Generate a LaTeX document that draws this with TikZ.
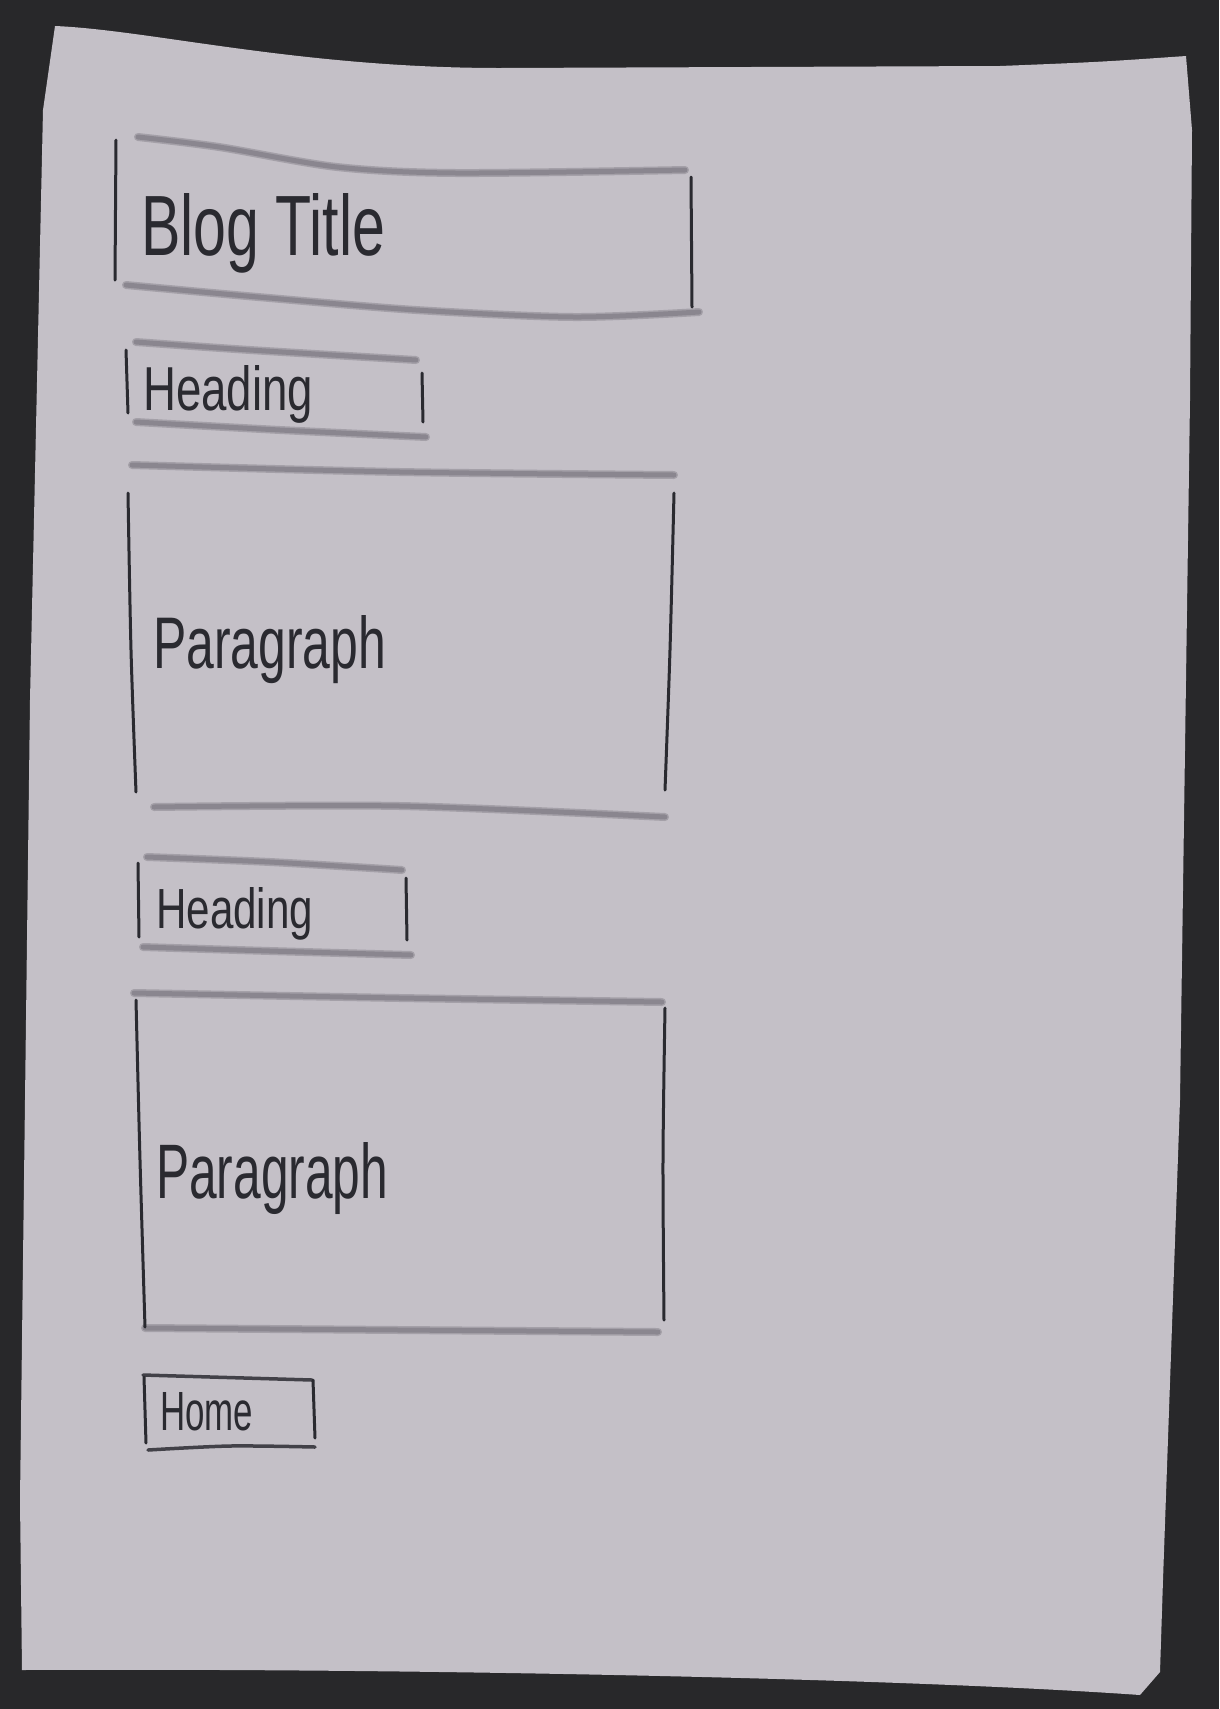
\documentclass[tikz,border=0pt]{standalone}
\usepackage{fontspec}
\setmainfont{Liberation Sans}
\usepackage{graphicx}
\definecolor{bg}{RGB}{40,40,42}
\definecolor{paper}{RGB}{196,192,199}
\definecolor{pencil}{RGB}{138,134,143}
\definecolor{ink}{RGB}{42,42,48}
\begin{document}
\begin{tikzpicture}[x=1pt,y=-1pt,
  hline/.style={pencil, line width=5pt, line cap=round,
    preaction={draw, pencil!55!paper, line width=8pt, line cap=round}},
  vline/.style={ink, line width=3pt, line cap=round},
  hbox/.style={ink!75!pencil, line width=3.5pt, line cap=round},
  label/.style={anchor=base west, inner sep=0pt, text=ink}]
\fill[bg] (0,0) rectangle (1219,1709);
\useasboundingbox (0,0) rectangle (1219,1709);
% paper sheet
\fill[paper] (55,26) .. controls (150,30) and (300,68) .. (500,68)
  -- (1000,66) .. controls (1100,62) .. (1186,56)
  -- (1192,130) -- (1190,400) -- (1180,1100) -- (1163,1580) -- (1160,1672)
  -- (1140,1695) .. controls (900,1678) and (400,1668) .. (22,1670)
  -- (20,1500) -- (30,700) -- (43,110) -- cycle;

% Blog title box
\draw[hline] plot[smooth] coordinates {(138,137) (219,147) (337,167) (456,173) (685,170)};
\draw[hline] plot[smooth] coordinates {(126,285) (258,297) (416,310) (574,317) (699,312)};
\draw[vline] (116,140) -- (115,280);
\draw[vline] (691,177) -- (692,307);
\node[label] (title) at (141,255) {\resizebox{244pt}{62pt}{Blog Title}};

% Heading 1
\draw[hline] plot[smooth] coordinates {(136,342) (250,350) (416,360)};
\draw[hline] plot[smooth] coordinates {(136,422) (280,430) (426,437)};
\draw[vline] (126,350) -- (128,413);
\draw[vline] (422,373) -- (423,422);
\node[label] (head1) at (143,410) {\resizebox{170pt}{45pt}{Heading}};

% Paragraph 1
\draw[hline] plot[smooth] coordinates {(132,465) (400,472) (674,475)};
\draw[hline] plot[smooth] coordinates {(154,807) (400,806) (665,817)};
\draw[vline] plot[smooth] coordinates {(128,493) (131,650) (136,792)};
\draw[vline] plot[smooth] coordinates {(674,493) (670,650) (665,790)};
\node[label] (para1) at (153,668) {\resizebox{233pt}{53pt}{Paragraph}};

% Heading 2
\draw[hline] plot[smooth] coordinates {(147,857) (270,862) (402,870)};
\draw[hline] plot[smooth] coordinates {(143,947) (270,951) (411,955)};
\draw[vline] (138,863) -- (139,937);
\draw[vline] (406,878) -- (407,940);
\node[label] (head2) at (156,928) {\resizebox{157pt}{41pt}{Heading}};

% Paragraph 2
\draw[hline] plot[smooth] coordinates {(134,993) (400,998) (662,1002)};
\draw[hline] plot[smooth] coordinates {(145,1328) (400,1330) (658,1332)};
\draw[vline] plot[smooth] coordinates {(136,1000) (140,1160) (145,1327)};
\draw[vline] plot[smooth] coordinates {(665,1008) (663,1160) (664,1320)};
\node[label] (para2) at (156,1198) {\resizebox{232pt}{56pt}{Paragraph}};

% Home button
\draw[hbox] (143,1375) -- (312,1380);
\draw[hbox] plot[smooth] coordinates {(148,1450) (230,1446) (315,1447)};
\draw[vline] (144,1377) -- (146,1443);
\draw[vline] (313,1380) -- (315,1438);
\node[label] (home) at (160,1430) {\resizebox{93pt}{38pt}{Home}};
\end{tikzpicture}
\end{document}
